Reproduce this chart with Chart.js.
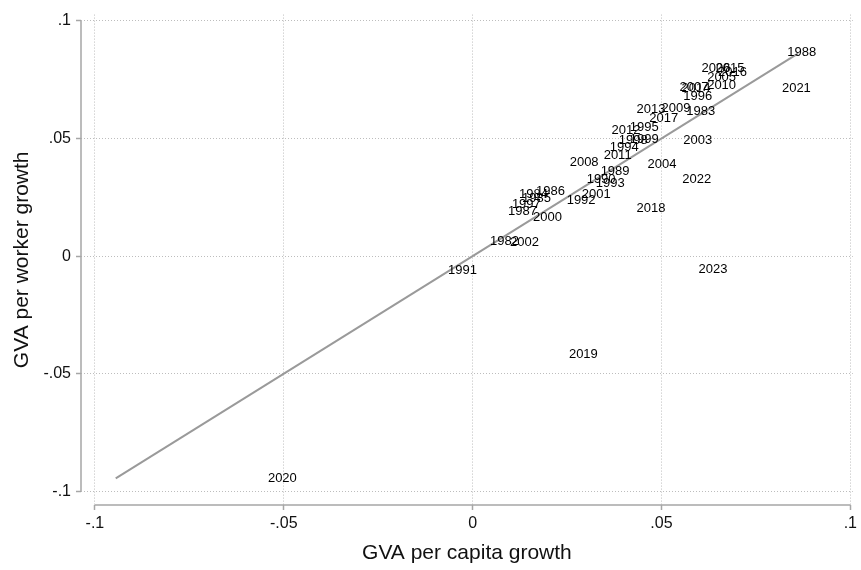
<!DOCTYPE html>
<html>
<head>
<meta charset="utf-8">
<script src="https://cdn.jsdelivr.net/npm/chart.js@4/dist/chart.umd.min.js"></script>
<style>
  html, body { margin: 0; padding: 0; background: #ffffff; }
  canvas { display: block; }
</style>
</head>
<body>
<canvas id="chart" width="861" height="570"></canvas>
<script>
// Year labels and their growth rates
const years = [
  1982, 1983, 1984, 1985, 1986, 1987, 1988, 1989, 1990, 1991,
  1992, 1993, 1994, 1995, 1996, 1997, 1998, 1999, 2000, 2001,
  2002, 2003, 2004, 2005, 2006, 2007, 2008, 2009, 2010, 2011,
  2012, 2013, 2014, 2015, 2016, 2017, 2018, 2019, 2020, 2021,
  2022, 2023
];
const capitaGrowth = [
  0.0038, 0.0558, 0.0115, 0.0123, 0.0160, 0.0086, 0.0825, 0.0331, 0.0294, -0.0073,
  0.0241, 0.0318, 0.0355, 0.0408, 0.0550, 0.0096, 0.0379, 0.0408, 0.0152, 0.0281,
  0.0091, 0.0550, 0.0455, 0.0613, 0.0598, 0.0540, 0.0249, 0.0492, 0.0613, 0.0339,
  0.0360, 0.0426, 0.0545, 0.0635, 0.0642, 0.0460, 0.0426, 0.0247, -0.0550, 0.0811,
  0.0547, 0.0590
];
const workerGrowth = [
  0.0064, 0.0616, 0.0263, 0.0246, 0.0276, 0.0191, 0.0865, 0.0361, 0.0327, -0.0059,
  0.0238, 0.0310, 0.0463, 0.0548, 0.0679, 0.0221, 0.0493, 0.0497, 0.0166, 0.0263,
  0.0059, 0.0493, 0.0391, 0.0760, 0.0798, 0.0718, 0.0399, 0.0628, 0.0726, 0.0429,
  0.0535, 0.0624, 0.0714, 0.0798, 0.0781, 0.0586, 0.0204, -0.0420, -0.0947, 0.0713,
  0.0327, -0.0055
];
// 45-degree reference line endpoints
const refLineEnds = [-0.0945, 0.0862];
// Axis ticks
const tickValues = [-0.1, -0.05, 0, 0.05, 0.1];
const tickLabels = ['-.1', '-.05', '0', '.05', '.1'];

const FONT = '"Liberation Sans", Arial, Helvetica, sans-serif';
const AXIS_GRAY = '#a6a6a6';
const GRID_GRAY = '#bdbdbd';

const points = years.map((yr, i) => ({ x: capitaGrowth[i], y: workerGrowth[i] }));
const refLine = refLineEnds.map(v => ({ x: v, y: v }));

// Year text drawn just right of each (invisible) marker
const yearLabels = {
  id: 'yearLabels',
  afterDatasetsDraw(chart) {
    const meta = chart.getDatasetMeta(1);
    const ctx = chart.ctx;
    ctx.save();
    ctx.font = '13px ' + FONT;
    ctx.fillStyle = '#000000';
    ctx.textAlign = 'left';
    ctx.textBaseline = 'middle';
    meta.data.forEach((el, i) => {
      ctx.fillText(String(years[i]), el.x + 3, el.y);
    });
    ctx.restore();
  }
};

// Axis lines spanning only the labelled tick range
const axisLines = {
  id: 'axisLines',
  afterDraw(chart) {
    const { x, y } = chart.scales;
    const ctx = chart.ctx;
    const x0 = x.getPixelForValue(tickValues[0]);
    const x1 = x.getPixelForValue(tickValues[tickValues.length - 1]);
    const y0 = y.getPixelForValue(tickValues[0]);
    const y1 = y.getPixelForValue(tickValues[tickValues.length - 1]);
    ctx.save();
    ctx.strokeStyle = AXIS_GRAY;
    ctx.lineWidth = 1.5;
    ctx.beginPath();
    ctx.moveTo(x0, chart.chartArea.bottom);
    ctx.lineTo(x1, chart.chartArea.bottom);
    ctx.moveTo(chart.chartArea.left, y0);
    ctx.lineTo(chart.chartArea.left, y1);
    ctx.stroke();
    ctx.restore();
  }
};

function fixedTicks(scale) {
  scale.ticks = tickValues.map(v => ({ value: v }));
}
function tickText(value) {
  const i = tickValues.findIndex(v => Math.abs(v - value) < 1e-9);
  return i >= 0 ? tickLabels[i] : '';
}

new Chart(document.getElementById('chart'), {
  type: 'scatter',
  data: {
    datasets: [
      {
        type: 'line',
        data: refLine,
        borderColor: '#9a9a9a',
        borderWidth: 2,
        pointRadius: 0,
        fill: false
      },
      {
        data: points,
        pointRadius: 0,
        pointHoverRadius: 0,
        showLine: false
      }
    ]
  },
  options: {
    responsive: false,
    animation: false,
    devicePixelRatio: 1,
    layout: { padding: { left: 0, top: 14, right: 5, bottom: 0 } },
    plugins: {
      legend: { display: false },
      tooltip: { enabled: false }
    },
    scales: {
      x: {
        type: 'linear',
        min: -0.10369,
        max: 0.10066,
        afterBuildTicks: fixedTicks,
        afterFit(scale) { scale.height = 65; },
        border: { display: false, dash: [1, 2] },
        grid: {
          color: GRID_GRAY,
          lineWidth: 1,
          tickLength: 5,
          tickColor: AXIS_GRAY,
          tickWidth: 1.5
        },
        ticks: {
          callback: tickText,
          color: '#111111',
          font: { family: FONT, size: 16 },
          padding: 4,
          maxRotation: 0,
          autoSkip: false
        },
        title: {
          display: true,
          text: 'GVA per capita growth',
          color: '#111111',
          font: { family: FONT, size: 21 },
          padding: { top: 0, bottom: 4 }
        }
      },
      y: {
        type: 'linear',
        min: -0.10582,
        max: 0.10268,
        afterBuildTicks: fixedTicks,
        afterFit(scale) { scale.width = 81; },
        border: { display: false, dash: [1, 2] },
        grid: {
          color: GRID_GRAY,
          lineWidth: 1,
          tickLength: 5,
          tickColor: AXIS_GRAY,
          tickWidth: 1.5
        },
        ticks: {
          callback: tickText,
          color: '#111111',
          font: { family: FONT, size: 16 },
          padding: 5,
          autoSkip: false
        },
        title: {
          display: true,
          text: 'GVA per worker growth',
          color: '#111111',
          font: { family: FONT, size: 21 },
          padding: { top: 10, bottom: 0 }
        }
      }
    }
  },
  plugins: [yearLabels, axisLines]
});
</script>
</body>
</html>
